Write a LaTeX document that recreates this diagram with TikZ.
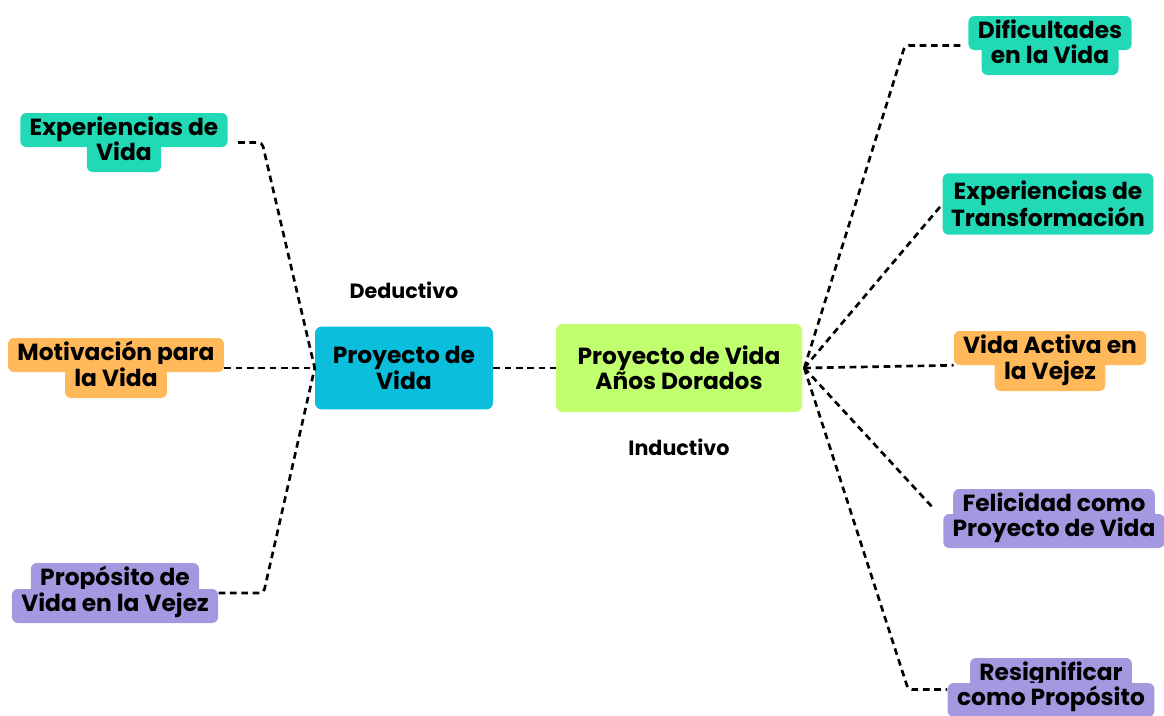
\documentclass[tikz,border=0pt]{standalone}
\usepackage{fontspec}
\setmainfont{Poppins}
\usetikzlibrary{fit,calc}
\definecolor{cgreen}{RGB}{34,217,181}
\definecolor{corange}{RGB}{255,185,90}
\definecolor{cpurple}{RGB}{165,152,224}
\definecolor{cblue}{RGB}{11,190,220}
\definecolor{clime}{RGB}{192,255,110}
\begin{document}
\begin{tikzpicture}[x=0.75pt,y=-0.75pt,
  lbl/.style={font=\fontsize{17.5}{19}\selectfont\bfseries, inner sep=0pt, text height=12.5pt, text depth=4pt},
  hl/.style={lbl, fill=#1, rounded corners=4.5pt, inner xsep=7pt, minimum height=25.5pt},
  grp/.style={fit=#1, inner sep=0pt},
  mainbox/.style={font=\fontsize{17.5}{19}\selectfont\bfseries, fill=#1, rounded corners=5pt, align=center, inner sep=0pt},
  conn/.style={line width=2pt, dash pattern=on 5pt off 3.5pt},
  plain/.style={font=\fontsize{15.5}{18}\selectfont\bfseries, inner sep=0pt}
]
\useasboundingbox (0,0) rectangle (1164,715);

% center boxes
\node[mainbox=cblue, minimum width=133.5pt, minimum height=62pt] (pv) at (404,368) {Proyecto de\\Vida};
\node[mainbox=clime, minimum width=184.5pt, minimum height=66pt] (pad) at (679,368) {Proyecto de Vida\\Años Dorados};
\node[plain] (ded) at (404,290) {Deductivo};
\node[plain] (ind) at (679,447) {Inductivo};

% left labels
\node[hl=cgreen] (ev1) at (124,130) {Experiencias de};
\node[hl=cgreen] (ev2) at (124,155) {Vida};
\node[grp=(ev1)(ev2)] (ev) {};

\node[hl=corange] (mv1) at (116,355) {Motivación para};
\node[hl=corange] (mv2) at (116,381) {la Vida};
\node[grp=(mv1)(mv2)] (mv) {};

\node[hl=cpurple] (pr1) at (115,580) {Propósito de};
\node[hl=cpurple] (pr2) at (115,606) {Vida en la Vejez};
\node[grp=(pr1)(pr2)] (pr) {};

% right labels
\node[hl=cgreen] (df1) at (1050,33) {Dificultades};
\node[hl=cgreen] (df2) at (1050,58) {en la Vida};
\node[grp=(df1)(df2)] (df) {};

\node[mainbox=cgreen, rounded corners=4.5pt, minimum width=158pt, minimum height=46pt] (et) at (1048,204) {Experiencias de\\Transformación};

\node[hl=corange] (va1) at (1050,348) {Vida Activa en};
\node[hl=corange] (va2) at (1050,374) {la Vejez};
\node[grp=(va1)(va2)] (va) {};

\node[hl=cpurple] (fe1) at (1054,506) {Felicidad como};
\node[hl=cpurple] (fe2) at (1054,531) {Proyecto de Vida};
\node[grp=(fe1)(fe2)] (fe) {};

\node[hl=cpurple] (rs1) at (1051,675) {Resignificar};
\node[hl=cpurple] (rs2) at (1051,700) {como Propósito};
\node[grp=(rs1)(rs2)] (rs) {};

% hubs
\coordinate (lhub) at (pv.west);
\coordinate (rhub) at ($(pad.east)+(2,0)$);

% left connectors
\draw[conn, rounded corners=3pt] ($(ev.east)+(10,0)$) -- ($(ev.east)+(34,0)$) -- (lhub);
\draw[conn] (mv.east) -- (lhub);
\draw[conn, rounded corners=3pt] (pr.east) -- ($(pr.east)+(45,0)$) -- (lhub);
\draw[conn] (pv.east) -- (pad.west);

% right connectors
\draw[conn, rounded corners=3pt] (rhub) -- ($(df.west)+(-63,0)$) -- ($(df.west)+(-3,0)$);
\draw[conn] (rhub) -- (et.west);
\draw[conn] (rhub) -- (va1.south west);
\draw[conn, shorten >=10pt] (rhub) -- (fe.west);
\draw[conn, rounded corners=3pt] (rhub) -- ($(rs.west)+(-39,2)$) -- ($(rs.west)+(0,2)$);
\end{tikzpicture}
\end{document}
